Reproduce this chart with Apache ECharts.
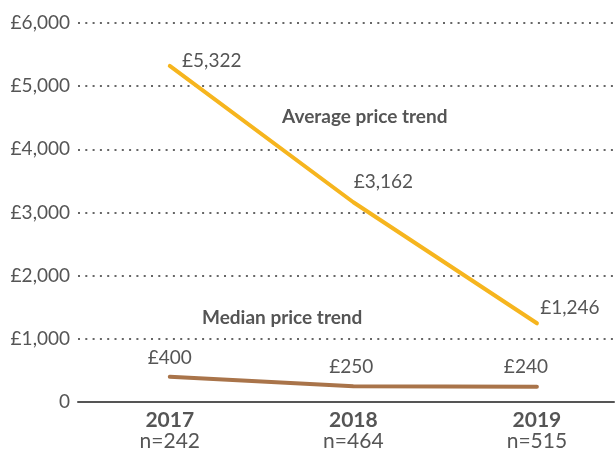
<!DOCTYPE html>
<html>
<head>
<meta charset="utf-8">
<script src="https://cdn.jsdelivr.net/npm/echarts@6/dist/echarts.min.js"></script>
<style>
  html, body { margin: 0; padding: 0; background: #fff; }
</style>
</head>
<body>
<div id="main" style="width:615px;height:453px;"></div>
<script>
var years = ['2017', '2018', '2019']
var counts = ['n=242', 'n=464', 'n=515']
var averagePrice = [5322, 3162, 1246]
var medianPrice = [400, 250, 240]
var yTickLabels = ['0', '£1,000', '£2,000', '£3,000', '£4,000', '£5,000', '£6,000']

var font = 'Lato'
var grey = '#555'

// label offsets from each point (px)
var avgOffsets = [[42, -5], [30, -20], [33, -15]]
var medOffsets = [[0, -19], [-2, -19], [-11, -20]]

function money (v) {
  return '£' + v.toLocaleString('en-GB')
}

function build (values, offsets) {
  return values.map(function (v, i) {
    return {
      value: [i, v],
      label: { offset: offsets[i] }
    }
  })
}

var chart = echarts.init(document.getElementById('main'))
chart.setOption({
  animation: false,
  grid: { left: 78, right: 1, top: 23, bottom: 51 },
  xAxis: {
    type: 'value',
    min: -0.5,
    max: 2.42,
    interval: 0.5,
    splitLine: { show: false },
    axisTick: { show: false },
    axisLine: { show: true, lineStyle: { color: grey, width: 2 } },
    axisLabel: {
      margin: 8,
      showMinLabel: false,
      showMaxLabel: false,
      formatter: function (v) {
        if (!Number.isInteger(v) || !years[v]) return ''
        return '{y|' + years[v] + '}\n{n|' + counts[v] + '}'
      },
      rich: {
        y: { fontFamily: font, fontWeight: 'bold', fontSize: 21, color: grey, lineHeight: 21 },
        n: { fontFamily: font, fontSize: 21, color: grey, lineHeight: 21 }
      }
    }
  },
  yAxis: {
    type: 'value',
    min: 0,
    max: 6000,
    interval: 1000,
    axisLine: { show: false },
    axisTick: { show: false },
    axisLabel: {
      margin: 8,
      fontFamily: font,
      fontSize: 19,
      color: grey,
      formatter: function (v) { return yTickLabels[v / 1000] }
    },
    splitLine: { lineStyle: { color: '#666', width: 2, type: [2, 5.3] } }
  },
  graphic: [
    {
      type: 'text', left: 282, top: 107,
      style: { text: 'Average price trend', fontFamily: font, fontWeight: 'bold', fontSize: 19, fill: grey }
    },
    {
      type: 'text', left: 202, top: 308,
      style: { text: 'Median price trend', fontFamily: font, fontWeight: 'bold', fontSize: 19, fill: grey }
    }
  ],
  series: [
    {
      name: 'Average',
      type: 'line',
      data: build(averagePrice, avgOffsets),
      symbol: 'circle',
      symbolSize: 2,
      itemStyle: { color: '#F6B51E' },
      lineStyle: { color: '#F6B51E', width: 4, cap: 'round' },
      label: {
        show: true,
        position: 'inside',
        align: 'center',
        verticalAlign: 'middle',
        fontFamily: font,
        fontSize: 19,
        color: grey,
        formatter: function (p) { return money(p.value[1]) }
      },
      emphasis: { disabled: true }
    },
    {
      name: 'Median',
      type: 'line',
      data: build(medianPrice, medOffsets),
      symbol: 'circle',
      symbolSize: 2,
      itemStyle: { color: '#A9744A' },
      lineStyle: { color: '#A9744A', width: 4, cap: 'round' },
      label: {
        show: true,
        position: 'inside',
        align: 'center',
        verticalAlign: 'middle',
        fontFamily: font,
        fontSize: 19,
        color: grey,
        formatter: function (p) { return money(p.value[1]) }
      },
      emphasis: { disabled: true }
    }
  ]
})
</script>
</body>
</html>
